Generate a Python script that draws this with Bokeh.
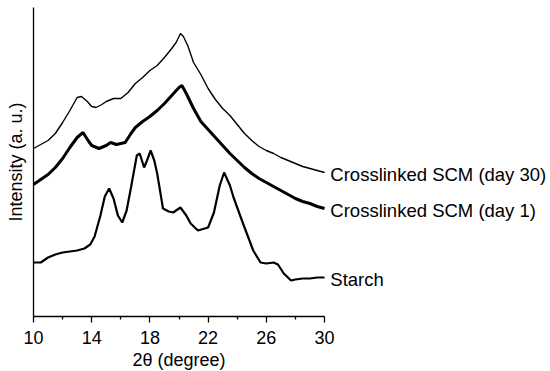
from bokeh.plotting import figure
from bokeh.models import Range1d, FixedTicker, Label, Title
from bokeh.embed import file_html
from bokeh.resources import INLINE

# 2-theta positions and intensities (a.u.)
x_day30 = [10.0, 10.5, 11.0, 11.5, 12.0, 12.5, 13.0, 13.3, 13.7, 14.0, 14.3, 14.7, 15.0, 15.5,
           16.0, 16.5, 17.0, 17.5, 18.0, 18.5, 19.0, 19.5, 19.8, 20.1, 20.3, 20.6, 21.0, 21.5,
           22.0, 22.5, 23.0, 23.5, 24.0, 24.5, 25.0, 25.5, 26.0, 26.5, 27.0, 27.5, 28.0, 28.5,
           29.0, 29.5, 30.0]
y_day30 = [168, 172, 176, 183, 194, 206, 219, 220, 215, 210, 209, 212, 215, 218,
           218, 224, 233, 239, 246, 251, 259, 268, 274, 283, 280, 271, 254, 242,
           228, 217, 208, 201, 192, 183, 176, 170, 166, 163, 159, 156, 153, 150,
           148, 146, 144]

x_day1 = [10.0, 10.5, 11.0, 11.5, 12.0, 12.5, 13.0, 13.4, 13.8, 14.0, 14.5, 15.0, 15.3, 15.7,
          16.0, 16.3, 16.7, 17.0, 17.5, 18.0, 18.5, 19.0, 19.5, 20.0, 20.2, 20.5, 21.0, 21.5,
          22.0, 22.5, 23.0, 23.5, 24.0, 24.5, 25.0, 25.5, 26.0, 26.5, 27.0, 27.5, 28.0, 28.5,
          29.0, 29.5, 30.0]
y_day1 = [132, 137, 142, 149, 158, 169, 179, 184, 175, 171, 168, 171, 174, 172,
          173, 174, 183, 189, 195, 200, 206, 213, 221, 229, 231, 223, 208, 195,
          187, 179, 171, 163, 156, 149, 143, 138, 134, 130, 126, 122, 118, 115,
          113, 110, 108]

x_starch = [10.0, 10.5, 11.0, 11.5, 12.0, 12.5, 13.0, 13.5, 13.9, 14.2, 14.6, 14.9, 15.2, 15.5,
            15.8, 16.1, 16.4, 16.7, 17.1, 17.3, 17.6, 17.8, 18.05, 18.3, 18.5, 18.9, 19.3, 19.6,
            20.1, 20.5, 20.8, 21.3, 22.0, 22.4, 22.8, 23.1, 23.5, 23.75, 24.0, 24.4, 25.1, 25.6,
            26.0, 26.5, 26.8, 27.2, 27.7, 28.0, 28.5, 29.0, 29.5, 30.0]
y_starch = [54, 54, 59, 62, 64, 65, 66, 68, 72, 80, 101, 120, 128, 118,
            101, 94, 106, 129, 161, 163, 149, 156, 166, 156, 143, 108, 105, 104,
            109, 101, 93, 86, 89, 104, 131, 144, 131, 119, 109, 93, 66, 54,
            53, 54, 52, 43, 36, 37, 38, 38, 39, 39]

series_names = ["Crosslinked SCM (day 30)", "Crosslinked SCM (day 1)", "Starch"]
x_ticks = [10, 14, 18, 22, 26, 30]
x_minor = [12, 16, 20, 24, 28]

FONT = "Liberation Sans"

p = figure(width=550, height=371, output_backend="svg", toolbar_location=None,
           x_range=Range1d(10, 45.53), y_range=Range1d(0, 309),
           min_border_left=33, min_border_right=0, min_border_top=7, min_border_bottom=55)
p.outline_line_color = None
p.xgrid.visible = False
p.ygrid.visible = False
p.background_fill_color = "white"
p.border_fill_color = "white"

p.line(x_day30, y_day30, line_color="black", line_width=1.4)
p.line(x_day1, y_day1, line_color="black", line_width=3.0)
p.line(x_starch, y_starch, line_color="black", line_width=2.2)

# series labels to the right
for name, ys in zip(series_names, [y_day30, y_day1, y_starch]):
    p.add_layout(Label(x=30.4, y=ys[-1] - 2, text=name, text_font=FONT,
                       text_font_size="18.5px", text_baseline="middle", text_align="left",
                       text_color="black"))

xa = p.xaxis[0]
xa.bounds = (10, 30)
xa.ticker = FixedTicker(ticks=x_ticks, minor_ticks=x_minor)
xa.axis_line_width = 1.3
xa.axis_line_color = "black"
xa.major_tick_line_width = 1.3
xa.minor_tick_line_width = 1.3
xa.major_tick_in = 0
xa.major_tick_out = 6
xa.minor_tick_in = 0
xa.minor_tick_out = 3
xa.major_label_text_font = FONT
xa.major_label_text_font_size = "18px"
xa.major_label_text_color = "black"
xa.major_label_text_line_height = 1.0
xa.major_label_standoff = 8

# x-axis title, placed under the 10-30 span of the axis
p.add_layout(Title(text="2θ (degree)", align="left", offset=99,
                   text_font=FONT, text_font_size="18px", text_font_style="normal",
                   text_color="black", text_line_height=1.0, standoff=2), "below")

ya = p.yaxis[0]
ya.ticker = FixedTicker(ticks=[])
ya.axis_line_width = 1.3
ya.axis_line_color = "black"
ya.major_tick_out = 0
ya.major_tick_in = 0
ya.minor_tick_out = 0
ya.minor_tick_in = 0
ya.axis_label = "Intensity (a. u.)"
ya.axis_label_text_font = FONT
ya.axis_label_text_font_size = "18px"
ya.axis_label_text_color = "black"
ya.axis_label_text_font_style = "normal"
ya.axis_label_text_line_height = 1.0
ya.axis_label_standoff = 8

open("out.html", "w").write(file_html(p, INLINE))
